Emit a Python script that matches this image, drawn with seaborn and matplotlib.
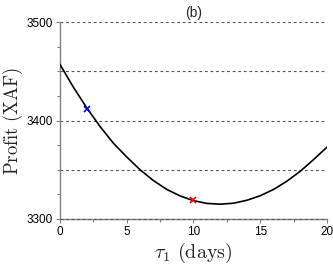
import matplotlib
matplotlib.use("Agg")
from matplotlib import pyplot as plt
from matplotlib.ticker import MultipleLocator
import seaborn as sns
import pandas as pd

# profit curve, one value per day
days = list(range(21))
profit = [3457, 3434, 3413, 3394, 3377, 3363, 3350, 3339, 3330, 3323.4,
          3318.6, 3315.8, 3315.0, 3316, 3319, 3323.6, 3330, 3338.4, 3348.5,
          3360.4, 3373]

# the two marked points
blue_pt = (2, 3412)
red_pt = (10, 3319)

grid_levels = [3350, 3400, 3450, 3500]


def make_plot():
    sns.set_theme(style="ticks")
    plt.rcParams['font.family'] = ['Liberation Sans', 'DejaVu Sans']
    plt.rcParams['mathtext.fontset'] = 'cm'

    fig = plt.figure(figsize=(3.33, 2.69), dpi=100)
    ax = fig.add_axes([0.18, 0.186, 0.802, 0.732])

    data = pd.DataFrame({'days': days, 'profit': profit})
    for lvl in grid_levels:
        ax.axhline(lvl, color='#555555', lw=0.8, ls=(0, (2.5, 2.5)), zorder=1)

    sns.lineplot(data=data, x='days', y='profit', color='black', lw=1.2,
                 ax=ax, zorder=3)
    ax.plot(*blue_pt, marker='x', color='blue', ms=5, mew=1.2, zorder=4)
    ax.plot(*red_pt, marker='x', color='red', ms=5, mew=1.2, zorder=4)

    ax.set_xlim(0, 20)
    ax.set_ylim(3300, 3500)
    ax.xaxis.set_major_locator(MultipleLocator(5))
    ax.xaxis.set_minor_locator(MultipleLocator(2.5))
    ax.yaxis.set_major_locator(MultipleLocator(100))
    ax.yaxis.set_minor_locator(MultipleLocator(25))
    ax.tick_params(which='both', labelsize=8.5, colors='#808080',
                   labelcolor='black', width=0.8, pad=2)
    ax.tick_params(which='major', length=3)
    ax.tick_params(which='minor', length=2)

    sns.despine(ax=ax)
    for side in ['left', 'bottom']:
        ax.spines[side].set_color('#808080')
        ax.spines[side].set_linewidth(1.0)
    ax.axhline(3300, color='#555555', lw=0.8, ls=(0, (2.5, 2.5)), zorder=5,
               clip_on=False)

    ax.set_xlabel(r'$\tau_1\ \mathrm{(days)}$', fontsize=14.5, labelpad=2)
    ax.set_ylabel(r'$\mathrm{Profit\ (XAF)}$', fontsize=13.5, labelpad=1)
    ax.set_title('(b)', fontsize=10, pad=4)


def save_plot_as(filename):
    make_plot()
    plt.savefig(filename, dpi=100)
    plt.close()


if __name__ == '__main__':
    save_plot_as('out.png')
